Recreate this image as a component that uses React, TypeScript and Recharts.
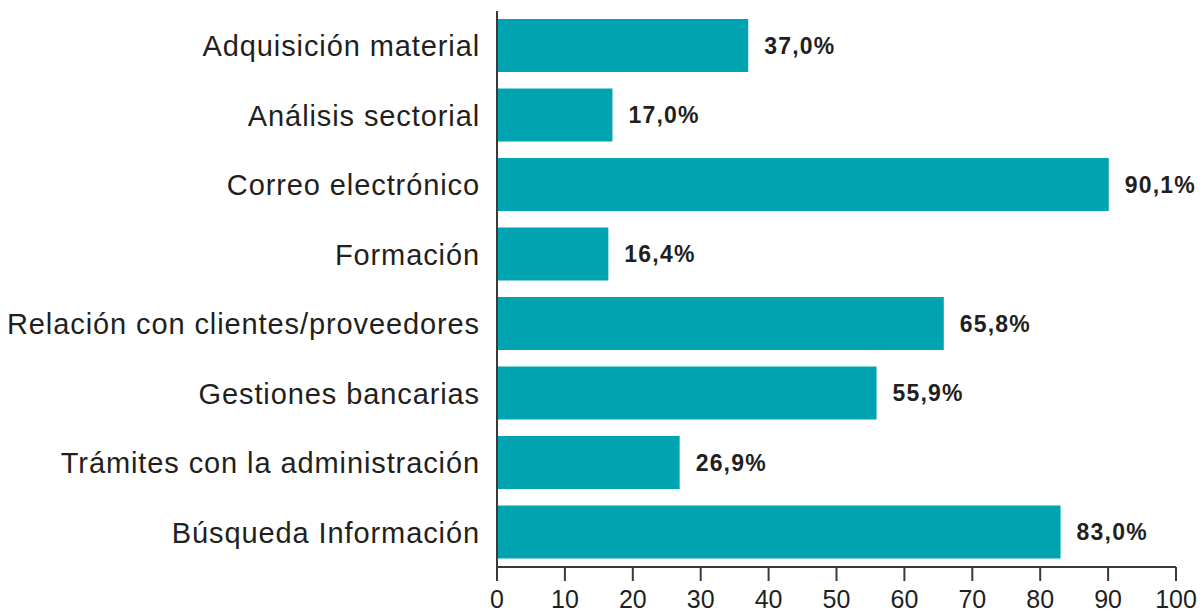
import React from "react";
import { BarChart, Bar, XAxis, YAxis, LabelList } from "recharts";

const categories = [
  "Adquisición material",
  "Análisis sectorial",
  "Correo electrónico",
  "Formación",
  "Relación con clientes/proveedores",
  "Gestiones bancarias",
  "Trámites con la administración",
  "Búsqueda Información",
];
const values = [37.0, 17.0, 90.1, 16.4, 65.8, 55.9, 26.9, 83.0];
const xTicks = [0, 10, 20, 30, 40, 50, 60, 70, 80, 90, 100];

const data = categories.map((c, i) => ({ name: c, value: values[i] }));

const fmt = (v: number) => v.toFixed(1).replace(".", ",") + "%";
const FONT = "'Liberation Sans', Arial, sans-serif";
const TEXT = "#231f20";

export default function App() {
  return (
    <div style={{ position: "absolute", left: 0, top: 0, width: 1203, height: 614, background: "#fff" }}>
      <BarChart
        width={1203}
        height={614}
        data={data}
        layout="vertical"
        margin={{ top: 11, right: 27, bottom: 0, left: 0 }}
        barSize={53}
      >
        <XAxis
          type="number"
          domain={[0, 100]}
          ticks={xTicks}
          interval={0}
          height={47}
          tickSize={14}
          tickMargin={9}
          axisLine={{ stroke: "#3a3a3a", strokeWidth: 2 }}
          tickLine={{ stroke: "#3a3a3a", strokeWidth: 2 }}
          tick={{ fill: TEXT, fontSize: 25, fontFamily: FONT }}
        />
        <YAxis
          type="category"
          dataKey="name"
          width={497}
          tickSize={0}
          tickMargin={17}
          interval={0}
          axisLine={{ stroke: "#3a3a3a", strokeWidth: 2 }}
          tickLine={false}
          tick={{ fill: TEXT, fontSize: 29, fontFamily: FONT, letterSpacing: 0.9 }}
        />
        <Bar dataKey="value" fill="#00a3b0" isAnimationActive={false}>
          <LabelList
            dataKey="value"
            position="right"
            offset={16}
            formatter={(v: any) => fmt(Number(v))}
            style={{ fill: TEXT, fontSize: 23, fontWeight: "bold", fontFamily: FONT, letterSpacing: 1.2 }}
          />
        </Bar>
      </BarChart>
    </div>
  );
}
